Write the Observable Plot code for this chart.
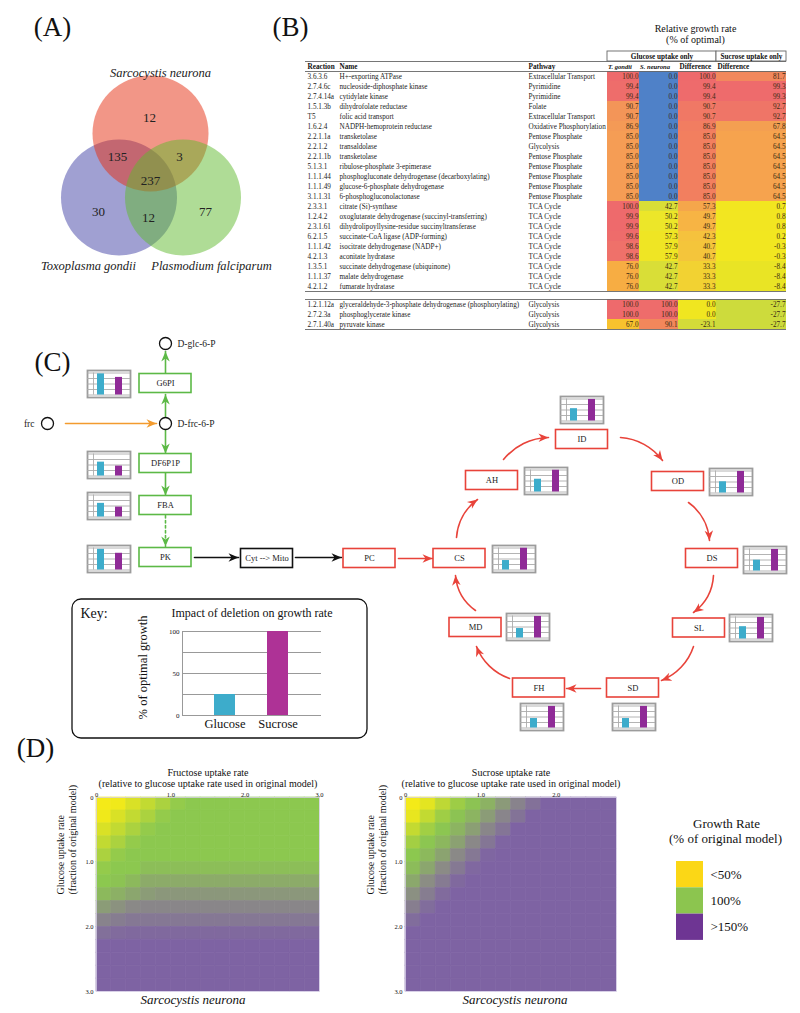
<!DOCTYPE html>
<html><head><meta charset="utf-8">
<script src="https://cdn.jsdelivr.net/npm/d3@7"></script>
<script src="https://cdn.jsdelivr.net/npm/@observablehq/plot@0.6"></script>
<style>
body{margin:0;background:#fff;}
#fig{position:relative;width:800px;height:1013px;overflow:hidden;background:#fff}
#fig svg{position:absolute}
</style></head><body><div id="fig"></div>
<script>
// ================= DATA =================
// Panel A
const vennSets = ["Sarcocystis neurona", "Toxoplasma gondii", "Plasmodium falciparum"];
const vennRegions = ["S", "S∩T", "S∩P", "S∩T∩P", "T", "T∩P", "P"];
const vennCounts = [12, 135, 3, 237, 30, 12, 77];

// Panel B
const reactionIds = ["3.6.3.6","2.7.4.6c","2.7.4.14a","1.5.1.3b","T5","1.6.2.4","2.2.1.1a","2.2.1.2","2.2.1.1b","5.1.3.1","1.1.1.44","1.1.1.49","3.1.1.31","2.3.3.1","1.2.4.2","2.3.1.61","6.2.1.5","1.1.1.42","4.2.1.3","1.3.5.1","1.1.1.37","4.2.1.2"];
const reactionNames = ["H+-exporting ATPase","nucleoside-diphosphate kinase","cytidylate kinase","dihydrofolate reductase","folic acid transport","NADPH-hemoprotein reductase","transketolase","transaldolase","transketolase","ribulose-phosphate 3-epimerase","phosphogluconate dehydrogenase (decarboxylating)","glucose-6-phosphate dehydrogenase","6-phosphogluconolactonase","citrate (Si)-synthase","oxoglutarate dehydrogenase (succinyl-transferring)","dihydrolipoyllysine-residue succinyltransferase","succinate-CoA ligase (ADP-forming)","isocitrate dehydrogenase (NADP+)","aconitate hydratase","succinate dehydrogenase (ubiquinone)","malate dehydrogenase","fumarate hydratase"];
const pathways = ["Extracellular Transport","Pyrimidine","Pyrimidine","Folate","Extracellular Transport","Oxidative Phosphorylation","Pentose Phosphate","Glycolysis","Pentose Phosphate","Pentose Phosphate","Pentose Phosphate","Pentose Phosphate","Pentose Phosphate","TCA Cycle","TCA Cycle","TCA Cycle","TCA Cycle","TCA Cycle","TCA Cycle","TCA Cycle","TCA Cycle","TCA Cycle"];
const tgGlucose = [100.0,99.4,99.4,90.7,90.7,86.9,85.0,85.0,85.0,85.0,85.0,85.0,85.0,100.0,99.9,99.9,99.6,98.6,98.6,76.0,76.0,76.0];
const snGlucose = [0.0,0.0,0.0,0.0,0.0,0.0,0.0,0.0,0.0,0.0,0.0,0.0,0.0,42.7,50.2,50.2,57.3,57.9,57.9,42.7,42.7,42.7];
const glucoseDiff = [100.0,99.4,99.4,90.7,90.7,86.9,85.0,85.0,85.0,85.0,85.0,85.0,85.0,57.3,49.7,49.7,42.3,40.7,40.7,33.3,33.3,33.3];
const sucroseDiff = [81.7,99.3,99.3,92.7,92.7,67.8,64.5,64.5,64.5,64.5,64.5,64.5,64.5,0.7,0.8,0.8,0.2,-0.3,-0.3,-8.4,-8.4,-8.4];

const reactionIds2 = ["1.2.1.12a","2.7.2.3a","2.7.1.40a"];
const reactionNames2 = ["glyceraldehyde-3-phosphate dehydrogenase (phosphorylating)","phosphoglycerate kinase","pyruvate kinase"];
const pathways2 = ["Glycolysis","Glycolysis","Glycolysis"];
const tgGlucose2 = [100.0,100.0,67.0];
const snGlucose2 = [100.0,100.0,90.1];
const glucoseDiff2 = [0.0,0.0,-23.1];
const sucroseDiff2 = [-27.7,-27.7,-27.7];

// Panel C
const enzymes = ["G6PI","DF6P1P","FBA","PK","CS","AH","ID","OD","DS","SL","SD","FH","MD"];
const enzymeGlucose = [96,63,62,94,43,58,56,51,49,56,43,43,43];
const enzymeSucrose = [80,45,45,76,99,99,98,98,98,98,98,98,98];
const metabolites = ["D-glc-6-P","D-frc-6-P","frc"];
const keyCategories = ["Glucose","Sucrose"];
const keyValues = [25,100];

// Panel D (growth rate, % of original model; rows = glucose uptake 0→3, cols = fructose / sucrose uptake)
const fructoseGrid = [
  [41,52,63,74,85,96,100,100,100,100,100,100,100,100,100],
  [52,63,74,85,96,100,100,100,100,100,100,100,100,100,100],
  [63,74,85,96,100,100,100,100,100,100,100,100,100,100,100],
  [74,85,96,100,100,100,100,100,100,100,100,100,100,100,100],
  [85,96,100,100,100,100,100,100,100,100,100,100,100,100,100],
  [96,100,100,104,104,104,104,104,104,104,104,104,104,104,104],
  [100,102,106,112,112,112,112,112,112,112,112,112,112,112,112],
  [106,110,114,118,120,120,120,120,120,120,120,120,120,120,120],
  [118,122,126,128,128,128,128,128,128,128,128,128,128,128,128],
  [130,134,137,137,137,137,137,137,137,137,137,137,137,137,137],
  [142,145,146,146,146,146,146,146,146,146,146,146,146,146,146],
  [152,152,152,152,152,152,152,152,152,152,152,152,152,152,152],
  [158,158,158,158,158,158,158,158,158,158,158,158,158,158,158],
  [162,162,162,162,162,162,162,162,162,162,162,162,162,162,162],
  [165,165,165,165,165,165,165,165,165,165,165,165,165,165,165]
];
const sucroseGrid = [
  [41,58,76,92,102,109,119,130,141,152,160,160,160,160],
  [56,74,91,102,108,118,129,140,151,160,160,160,160,160],
  [73,90,101,108,117,128,139,150,159,160,160,160,160,160],
  [89,101,107,116,127,138,149,158,160,160,160,160,160,160],
  [100,106,115,126,137,148,157,160,160,160,160,160,160,160],
  [105,114,125,136,147,156,160,160,160,160,160,160,160,160],
  [113,124,135,146,156,160,160,160,160,160,160,160,160,160],
  [123,134,145,155,160,160,160,160,160,160,160,160,160,160],
  [133,144,154,160,160,160,160,160,160,160,160,160,160,160],
  [144,153,160,160,160,160,160,160,160,160,160,160,160,160],
  [153,160,160,160,160,160,160,160,160,160,160,160,160,160],
  [160,160,160,160,160,160,160,160,160,160,160,160,160,160],
  [160,160,160,160,160,160,160,160,160,160,160,160,160,160],
  [160,160,160,160,160,160,160,160,160,160,160,160,160,160],
  [160,160,160,160,160,160,160,160,160,160,160,160,160,160]
];
const gridStep = 0.2;
const legendLabels = ["<50%","100%",">150%"];

// ================= STYLE / LAYOUT =================
const serif = "'Liberation Serif','Times New Roman',serif";
const C = {green:"#5cb946", red:"#e8433a", orange:"#f39b2e", black:"#111", cyan:"#3daccb", violet:"#8f2b97", keyViolet:"#ae3296"};
const L = {
  panelLabels: [["(A)",52,27],["(B)",290,27],["(C)",52,362],["(D)",35,748]],
  vennCircles: [[118.5,197,"#4141a5"],[150,133,"#e52d0f"],[182.5,197,"#5fb92d"]], // T, S, P draw order
  vennSetLabels: [[160,72],[88,265],[211,265]],
  vennCountPos: [[149,117],[117,156],[179,156],[150,180],[98,211],[148,217],[205,211]],
  node: {G6PI:[165,383],DF6P1P:[165,463],FBA:[165,505],PK:[165,557],CS:[459,558],AH:[491.5,480],ID:[581.5,439],OD:[677.5,481],DS:[711.5,558],SL:[698.5,627.5],SD:[632.5,687.5],FH:[538.5,687.5],MD:[475,627]},
  extraBoxes: [["PC",369,558,C.red],["Cyt --> Mito",266.5,558,C.black]],
  mets: {"D-glc-6-P":[165,343,177,"start"],"D-frc-6-P":[165,423,177,"start"],"frc":[47,423,34,"end"]},
  mini: {G6PI:[87,370],DF6P1P:[87,451],FBA:[87,492],PK:[87,545],CS:[492,545],AH:[524,467],ID:[560,396],OD:[709,468],DS:[743,546],SL:[729,614],MD:[506,613],SD:[612,703],FH:[520,703]},
  straight: [
    [165,374,165,351,C.green,false],[165,417,165,394,C.green,false],[165,429,165,453,C.green,false],
    [165,473,165,495,C.green,false],[165,515,165,546,C.green,true],
    [65,423,156,423,C.orange,false],[194,557,238,557,C.black,false],[295,557,341,557,C.black,false],
    [398,558,432,558,C.red,false],[600,688,566,688,C.red,false]
  ],
  arcs: [[456,537,477,499],[503,459,548,437],[620,437,662,460],[688,502,709,540],[713,575,693,612],[693,646,661,680],[509,678,476,646],[475,610,455,575]],
  bend: 25
};

// ================= HELPERS =================
const fig = document.getElementById("fig");
function place(node, left, top){ node.style.left = left+"px"; node.style.top = top+"px"; fig.appendChild(node); }
const arrowHead = { draw(ctx, size){ const r = Math.sqrt(size/Math.PI); const Lh = 2*r, w = 0.85*r;
  ctx.moveTo(0,0); ctx.lineTo(-w,Lh); ctx.lineTo(0,0.7*Lh); ctx.lineTo(w,Lh); ctx.closePath(); } };
const deg = 180/Math.PI;

// ================= MAIN LAYER =================
const straightArrows = L.straight.map(([x1,y1,x2,y2,c,dash]) => ({x1,y1,x2,y2,c,dash,a:Math.atan2(y2-y1,x2-x1)}));
const arcArrows = L.arcs.map(([x1,y1,x2,y2]) => ({x1,y1,x2,y2,c:C.red,a:Math.atan2(y2-y1,x2-x1)+L.bend/deg}));
const boxes = enzymes.map((e,i)=>({t:e, x:L.node[e][0], y:L.node[e][1], c: i<4 ? C.green : C.red}))
  .concat(L.extraBoxes.map(([t,x,y,c])=>({t,x,y,c})));
const metData = metabolites.map(m=>({t:m, x:L.mets[m][0], y:L.mets[m][1], lx:L.mets[m][2], anchor:L.mets[m][3]}));
const vennCircleData = L.vennCircles.map(([x,y,c])=>({x,y,c}));
const vennCountData = vennCounts.map((n,i)=>({n, r:vennRegions[i], x:L.vennCountPos[i][0], y:L.vennCountPos[i][1]}));
const vennLabelData = vennSets.map((s,i)=>({s, x:L.vennSetLabels[i][0], y:L.vennSetLabels[i][1]}));
const legendColors = ["#fbd716","#8cc54f","#6e3593"];
const legendData = legendLabels.map((t,i)=>({t, c:legendColors[i], y1:861+i*26.3, y2:861+(i+1)*26.3}));

const main = Plot.plot({
  width:800, height:1013, margin:0,
  x:{domain:[0,800], range:[0,800], axis:null},
  y:{domain:[0,1013], range:[0,1013], axis:null},
  style:{fontFamily:serif, background:"white", overflow:"visible"},
  marks:[
    Plot.text(L.panelLabels, {x:d=>d[1], y:d=>d[2], text:d=>d[0], fontSize:27, fontFamily:serif, fill:"#111"}),
    // Venn
    Plot.dot(vennCircleData, {x:"x", y:"y", r:58, fill:"c", fillOpacity:0.5, stroke:"none"}),
    Plot.text(vennCountData, {x:"x", y:"y", text:d=>String(d.n), fontSize:13, fontFamily:serif, fill:"#222"}),
    Plot.text(vennLabelData, {x:"x", y:"y", text:"s", fontSize:12.5, fontStyle:"italic", fontFamily:serif, fill:"#222"}),
    // Panel C arrows
    Plot.arrow(straightArrows.filter(d=>!d.dash), {x1:"x1",y1:"y1",x2:"x2",y2:"y2",stroke:"c",strokeWidth:1.6,headLength:0}),
    Plot.arrow(straightArrows.filter(d=>d.dash), {x1:"x1",y1:"y1",x2:"x2",y2:"y2",stroke:"c",strokeWidth:1.6,headLength:0,strokeDasharray:"2.5,2.5"}),
    Plot.arrow(arcArrows, {x1:"x1",y1:"y1",x2:"x2",y2:"y2",stroke:"c",strokeWidth:1.6,headLength:0,bend:L.bend}),
    Plot.dot(straightArrows.concat(arcArrows), {x:"x2", y:"y2", r:5, symbol:arrowHead, fill:"c", stroke:"none", rotate:d=>d.a*deg+90}),
    // boxes
    Plot.rect(boxes, {x1:d=>d.x-26, x2:d=>d.x+26, y1:d=>d.y-9.5, y2:d=>d.y+9.5, fill:"white", stroke:"c", strokeWidth:1.6}),
    Plot.text(boxes, {x:"x", y:"y", text:"t", fontSize:8.5, fontFamily:serif, fill:"#222"}),
    // metabolites
    Plot.dot(metData, {x:"x", y:"y", r:6, fill:"white", stroke:"#111", strokeWidth:1.3}),
    Plot.text(metData.filter(d=>d.anchor==="start"), {x:"lx", y:"y", text:"t", textAnchor:"start", fontSize:9.5, fontFamily:serif, fill:"#222"}),
    Plot.text(metData.filter(d=>d.anchor==="end"), {x:"lx", y:"y", text:"t", textAnchor:"end", fontSize:9.5, fontFamily:serif, fill:"#222"}),
    // key box
    Plot.rect([0], {x1:72, x2:367, y1:599, y2:738, rx:9, fill:"none", stroke:"#111", strokeWidth:1.3}),
    Plot.text(["Key:"], {x:80, y:613, textAnchor:"start", fontSize:14, fontFamily:serif, fill:"#111"}),
    Plot.text(["Impact of deletion on growth rate"], {x:251.5, y:613, fontSize:12, fontFamily:serif, fill:"#111"}),
    Plot.text(["% of optimal growth"], {x:142, y:667, rotate:-90, fontSize:12.5, fontFamily:serif, fill:"#111"}),
    Plot.ruleX([182], {y1:631, y2:715, stroke:"#999", strokeWidth:1}),
    // Panel D legend
    Plot.text(["Growth Rate"], {x:726, y:823, fontSize:13, fontFamily:serif, fill:"#111"}),
    Plot.text(["(% of original model)"], {x:725, y:838, fontSize:13, fontFamily:serif, fill:"#111"}),
    Plot.rect(legendData, {x1:676, x2:703, y1:"y1", y2:"y2", fill:"c"}),
    Plot.text(legendData, {x:710, y:d=>(d.y1+d.y2)/2, text:"t", textAnchor:"start", fontSize:13, fontFamily:serif, fill:"#111"})
  ]
});
place(main, 0, 0);

// ================= TABLE (Panel B) =================
const tgColor = d3.scaleLinear().domain([67,76,85,91,98.5,100]).range(["#f8c22e","#f7ad43","#f59d55","#f39558","#ef716a","#ee6a6c"]);
const snColor = d3.scaleLinear().domain([0,42.7,50,58,90,100]).range(["#4f81c8","#d9de37","#ece629","#efe524","#f2875b","#ee6c6b"]);
const dfColor = d3.scaleLinear().domain([-23.1,0,33.3,40.7,49.7,57.3,85,91,100]).range(["#d3db39","#f0e620","#f2d232","#f4c53b","#f7b444","#f5a64b","#f27f5f","#f07865","#ee6a6c"]);
const scColor = d3.scaleLinear().domain([-27.7,-8.4,0,64.5,68,82,93,100]).range(["#cddb3c","#e9e425","#f2e720","#f6a34e","#f49f51","#f2875d","#ef7467","#ee6a6c"]);
const cols = {id:[305,337], name:[337,526], path:[526,607], tg:[607,639], sn:[639,678], df:[678,716], sc:[716,786]};
const fs = 7.2;
function tableMarks(rows, allBands){
  const m = [];
  m.push(Plot.barX(rows, {x1:cols.tg[0], x2:cols.tg[1], y:"id", fill:d=>tgColor(d.tg)}));
  m.push(Plot.barX(rows, {x1:cols.sn[0], x2:cols.sn[1], y:"id", fill:d=>snColor(d.sn)}));
  m.push(Plot.barX(rows, {x1:cols.df[0], x2:cols.df[1], y:"id", fill:d=>dfColor(d.df)}));
  m.push(Plot.barX(rows, {x1:cols.sc[0], x2:cols.sc[1], y:"id", fill:d=>scColor(d.sc)}));
  for (const xv of [305,337]) m.push(Plot.ruleX(allBands, {x:xv, y:d=>d, stroke:"#666", strokeWidth:0.8}));
  for (const xv of [607,639,678,716,786]) m.push(Plot.ruleX(allBands, {x:xv, y:d=>d, stroke:"#5a4a2a", strokeWidth:0.8}));
  m.push(Plot.ruleY([allBands[0]], {y:d=>d, dy:-5, x1:305, x2:786, stroke:"#666", strokeWidth:0.9}));
  m.push(Plot.ruleY([allBands[allBands.length-1]], {y:d=>d, dy:5, x1:305, x2:786, stroke:"#666", strokeWidth:0.9}));
  m.push(Plot.text(rows, {x:307, y:"id", text:"id", textAnchor:"start", fontSize:fs, fill:"#222"}));
  m.push(Plot.text(rows, {x:339, y:"id", text:"name", textAnchor:"start", fontSize:fs, fill:"#222"}));
  m.push(Plot.text(rows, {x:528, y:"id", text:"path", textAnchor:"start", fontSize:fs, fill:"#222"}));
  m.push(Plot.text(rows, {x:cols.tg[1]-1, y:"id", text:d=>d.tg.toFixed(1), textAnchor:"end", fontSize:fs, fill:"#3a2a12"}));
  m.push(Plot.text(rows, {x:cols.sn[1]-1, y:"id", text:d=>d.sn.toFixed(1), textAnchor:"end", fontSize:fs, fill:"#3a2a12"}));
  m.push(Plot.text(rows, {x:cols.df[1]-1, y:"id", text:d=>d.df.toFixed(1), textAnchor:"end", fontSize:fs, fill:"#3a2a12"}));
  m.push(Plot.text(rows, {x:cols.sc[1]-1, y:"id", text:d=>d.sc.toFixed(1), textAnchor:"end", fontSize:fs, fill:"#3a2a12"}));
  return m;
}
const rows1 = reactionIds.map((id,i)=>({id, name:reactionNames[i], path:pathways[i], tg:tgGlucose[i], sn:snGlucose[i], df:glucoseDiff[i], sc:sucroseDiff[i]}));
const rows2 = reactionIds2.map((id,i)=>({id, name:reactionNames2[i], path:pathways2[i], tg:tgGlucose2[i], sn:snGlucose2[i], df:glucoseDiff2[i], sc:sucroseDiff2[i]}));
const headersNormal = [{t:"Reaction", x:307},{t:"Name", x:339},{t:"Pathway", x:528},{t:"Difference", x:679},{t:"Difference", x:717}];
const headersItalic = [{t:"T. gondii", x:607.5},{t:"S. neurona", x:639.5}];
const groups = [{t:"Glucose uptake only", x1:607, x2:716},{t:"Sucrose uptake only", x1:716, x2:786}];
const band1 = ["hdr", ...reactionIds];
const table1 = Plot.plot({
  width:500, height:300, margin:0,
  x:{domain:[300,800], range:[0,500], axis:null},
  y:{domain:["grp", ...band1], range:[51,291], padding:0, axis:null},
  style:{fontFamily:serif, background:"transparent", overflow:"visible"},
  marks:[
    ...tableMarks(rows1, band1),
    Plot.ruleY(["hdr"], {y:d=>d, dy:5, x1:305, x2:786, stroke:"#666", strokeWidth:0.9}),
    Plot.barX(groups, {x1:"x1", x2:"x2", y:()=>"grp", fill:"white", stroke:"#666", strokeWidth:0.9}),
    Plot.text(groups, {x:d=>(d.x1+d.x2)/2, y:()=>"grp", text:"t", fontSize:fs, fontWeight:"bold", fill:"#111"}),
    Plot.text(headersNormal, {x:"x", y:()=>"hdr", text:"t", textAnchor:"start", fontSize:fs, fontWeight:"bold", fill:"#111"}),
    Plot.text(headersItalic, {x:"x", y:()=>"hdr", text:"t", textAnchor:"start", fontSize:6.6, fontWeight:"bold", fontStyle:"italic", fill:"#111"}),
    Plot.text(["Relative growth rate"], {x:695, frameAnchor:"top", dy:24, fontSize:10, fill:"#111"}),
    Plot.text(["(% of optimal)"], {x:695, frameAnchor:"top", dy:35, fontSize:10, fill:"#111"})
  ]
});
place(table1, 300, 0);
const table2 = Plot.plot({
  width:500, height:40, margin:0,
  x:{domain:[300,800], range:[0,500], axis:null},
  y:{domain:reactionIds2, range:[5,35], padding:0, axis:null},
  style:{fontFamily:serif, background:"transparent", overflow:"visible"},
  marks: tableMarks(rows2, reactionIds2)
});
place(table2, 300, 294);

// ================= MINI CHARTS (Panel C) =================
enzymes.forEach((e,i)=>{
  const vals = [{k:"Glucose", v:enzymeGlucose[i]}, {k:"Sucrose", v:enzymeSucrose[i]}];
  const w = 43, h = 27;
  const p = Plot.plot({
    width:w, height:h, margin:0,
    x:{domain:keyCategories, range:[4,41], paddingInner:0.6, paddingOuter:0.3, axis:null},
    y:{domain:[0,100], range:[h-2.5,2.5], axis:null},
    style:{background:"transparent", overflow:"visible"},
    marks:[
      Plot.frame({fill:"white", stroke:"#9c9c9c", strokeWidth:1.8}),
      Plot.ruleY([0,25,50,75,100], {stroke:"#ababab", strokeWidth:0.9}),
      Plot.ruleX(["Glucose"], {dx:-7.5, y1:0, y2:100, stroke:"#ababab", strokeWidth:0.9}),
      Plot.barY(vals, {x:"k", y:"v", fill:d=>d.k==="Glucose"?C.cyan:C.violet})
    ]
  });
  place(p, L.mini[e][0], L.mini[e][1]);
});

// ================= KEY CHART =================
const keyData = keyCategories.map((k,i)=>({k, v:keyValues[i]}));
const keyChart = Plot.plot({
  width:190, height:140, marginLeft:42, marginRight:9, marginTop:31, marginBottom:25,
  x:{domain:keyCategories, padding:0.6},
  y:{domain:[0,100]},
  style:{fontFamily:serif, background:"transparent", overflow:"visible"},
  marks:[
    Plot.ruleY([0,25,50,75,100], {stroke:"#999", strokeWidth:1}),
    Plot.barY(keyData, {x:"k", y:"v", fill:d=>d.k==="Glucose"?C.cyan:C.keyViolet}),
    Plot.axisY([0,50,100], {tickSize:0, tickPadding:3, fontSize:7, label:null, fill:"#111"}),
    Plot.axisX({tickSize:0, tickPadding:4, fontSize:12.5, label:null, fill:"#111"})
  ]
});
place(keyChart, 140, 600);

// ================= HEATMAPS (Panel D) =================
const heatColor = {type:"linear", domain:[50,100,125,150], range:["#f4ea18","#8cc84f","#8b8b86","#7e63a3"], clamp:true, interpolate:"rgb"};
const fmt = d => d===0 ? "0" : d.toFixed(1);
function heatmap(grid, xMax, xTicks, title, width, mL, mR, dyLab, capDx){
  const cells = [];
  grid.forEach((row,i)=>row.forEach((v,j)=>cells.push({x1:j*gridStep, x2:(j+1)*gridStep, y1:i*gridStep, y2:(i+1)*gridStep, v})));
  return Plot.plot({
    width, height:258, marginLeft:mL, marginRight:mR, marginTop:42, marginBottom:22,
    x:{domain:[0,xMax]}, y:{domain:[0,3], reverse:true},
    color:heatColor,
    style:{fontFamily:serif, background:"transparent", overflow:"visible"},
    marks:[
      Plot.rect(cells, {x1:"x1", x2:"x2", y1:"y1", y2:"y2", fill:"v", stroke:"v", strokeWidth:0.6}),
      Plot.frame({stroke:"#d8d0e8", strokeWidth:0.8}),
      Plot.axisX(xTicks, {anchor:"top", tickSize:0, tickPadding:1, fontSize:6.5, tickFormat:fmt, label:null, fill:"#111"}),
      Plot.axisY([0,1,2,3], {anchor:"left", tickSize:0, tickPadding:3, fontSize:6.5, tickFormat:fmt, label:null, fill:"#111"}),
      Plot.text([title], {frameAnchor:"top", dy:-29, fontSize:10, fill:"#111"}),
      Plot.text(["(relative to glucose uptake rate used in original model)"], {frameAnchor:"top", dy:-18, fontSize:10, fill:"#111"}),
      Plot.text(["Glucose uptake rate"], {frameAnchor:"left", dx:dyLab, rotate:-90, fontSize:10, fill:"#111"}),
      Plot.text(["(fraction of original model)"], {frameAnchor:"left", dx:dyLab+12, rotate:-90, fontSize:10, fill:"#111"}),
      Plot.text(["Sarcocystis neurona"], {frameAnchor:"bottom", dy:12, dx:capDx, fontSize:13, fontStyle:"italic", fill:"#111"})
    ]
  });
}
place(heatmap(fructoseGrid, 3, [0,1,2,3], "Fructose uptake rate", 330, 96, 11, -36, -15), 0, 755);
place(heatmap(sucroseGrid, 2.8, [0,1,2], "Sucrose uptake rate", 300, 75, 14, -35, 4), 330, 755);
</script></body></html>
